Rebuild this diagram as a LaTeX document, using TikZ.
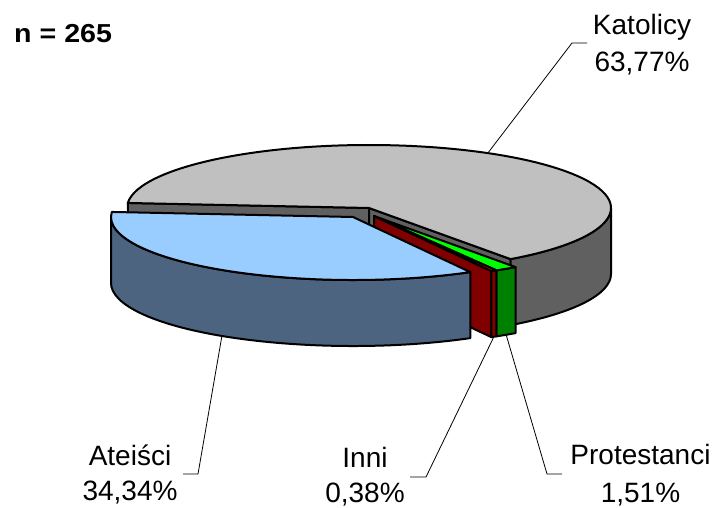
\documentclass[tikz,border=0pt]{standalone}
\usepackage{fontspec}
\usepackage{graphicx}
\setmainfont{Liberation Sans}
\usetikzlibrary{calc}
\definecolor{gTop}{HTML}{C0C0C0}
\definecolor{gSide}{HTML}{606060}
\definecolor{bTop}{HTML}{99CCFF}
\definecolor{bSide}{HTML}{4D6480}
\definecolor{rTop}{HTML}{FF0000}
\definecolor{rSide}{HTML}{800000}
\definecolor{gnTop}{HTML}{00FF00}
\definecolor{gnSide}{HTML}{008000}
\begin{document}
\begin{tikzpicture}[x=1pt,y=1pt,
  face/.style={draw=black,line width=2pt,line join=round},
  lead/.style={draw=black,line width=0.8pt},
  lbl/.style={font=\fontsize{28}{34}\selectfont,anchor=base,inner sep=0pt},
  ell/.style={x radius=242pt,y radius=63pt}]
\useasboundingbox (0,0) rectangle (719,507);
\coordinate (G) at (369,299);
\coordinate (R) at (374,291);
\coordinate (B) at (353,290);
% --- Katolicy (grey)
\filldraw[face,fill=gSide] (G) -- ($(G)+(175.4:242pt and 63pt)$) -- ++(0,-66) -- ($(G)+(0,-66)$) -- cycle;
\filldraw[face,fill=gSide] (G) -- ($(G)+(-54.2:242pt and 63pt)$) -- ++(0,-66) -- ($(G)+(0,-66)$) -- cycle;
\filldraw[face,fill=gSide] ($(G)+(-54.2:242pt and 63pt)$) arc[start angle=-54.2,end angle=0,ell] -- ++(0,-66) arc[start angle=0,end angle=-54.2,ell] -- cycle;
\filldraw[face,fill=gTop] (G) -- ($(G)+(-54.2:242pt and 63pt)$) arc[start angle=-54.2,end angle=175.4,ell] -- cycle;
% --- Protestanci (green)
\filldraw[face,fill=gnSide] ($(R)+(-59.6:242pt and 63pt)$) arc[start angle=-59.6,end angle=-54.2,ell] -- ++(0,-66) arc[start angle=-54.2,end angle=-59.6,ell] -- cycle;
\filldraw[face,fill=gnTop] (R) -- ($(R)+(-59.6:242pt and 63pt)$) arc[start angle=-59.6,end angle=-54.2,ell] -- cycle;
% --- Inni (red)
\filldraw[face,fill=rSide] (R) -- ($(R)+(-61:242pt and 63pt)$) -- ++(0,-66) -- ($(R)+(0,-66)$) -- cycle;
\filldraw[face,fill=rSide] ($(R)+(-61:242pt and 63pt)$) arc[start angle=-61,end angle=-59.6,ell] -- ++(0,-66) arc[start angle=-59.6,end angle=-61,ell] -- cycle;
\filldraw[face,fill=rTop] (R) -- ($(R)+(-61:242pt and 63pt)$) arc[start angle=-61,end angle=-59.6,ell] -- cycle;
% --- Ateisci (blue)
\filldraw[face,fill=bSide] ($(B)+(-180:242pt and 63pt)$) arc[start angle=-180,end angle=-61,ell] -- ++(0,-66) arc[start angle=-61,end angle=-180,ell] -- cycle;
\filldraw[face,fill=bTop] (B) -- ($(B)+(-61:242pt and 63pt)$) arc[start angle=-61,end angle=-184.6,ell] -- cycle;
% --- labels
\node[anchor=base west,inner sep=0pt,font=\bfseries\fontsize{26}{30}\selectfont] (n) at (14,464) {\scalebox{1.1}[1]{n = 265}};
\node[lbl] (katA) at (642,472) {Katolicy};
\node[lbl] (katB) at (642,435) {63,77\%};
\node[lbl] (ateA) at (130,42) {Ateiści};
\node[lbl] (ateB) at (130,7) {34,34\%};
\node[lbl] (inA) at (365,40) {Inni};
\node[lbl] (inB) at (365,5) {0,38\%};
\node[lbl] (prA) at (640.5,43) {Protestanci};
\node[lbl] (prB) at (640.5,5) {1,51\%};
% --- leader lines
\coordinate (kRim) at ($(G)+(60.6:242pt and 63pt)$);
\coordinate (kBend) at (572,464);
\coordinate (kEnd) at (587,464);
\draw[lead] (kRim) -- (kBend) -- (kEnd);
\coordinate (aRim) at ($(B)+(237.2:242pt and 63pt)+(0,-66)$);
\coordinate (aBend) at (198,33);
\coordinate (aEnd) at (183,33);
\draw[lead] (aRim) -- (aBend) -- (aEnd);
\coordinate (iRim) at ($(R)+(-60.3:242pt and 63pt)+(0,-66)$);
\coordinate (iBend) at (426,30);
\coordinate (iEnd) at (410,30);
\draw[lead] (iRim) -- (iBend) -- (iEnd);
\coordinate (pRim) at ($(R)+(-56.9:242pt and 63pt)+(0,-66)$);
\coordinate (pBend) at (547,33);
\coordinate (pEnd) at (562,33);
\draw[lead] (pRim) -- (pBend) -- (pEnd);
\end{tikzpicture}
\end{document}
